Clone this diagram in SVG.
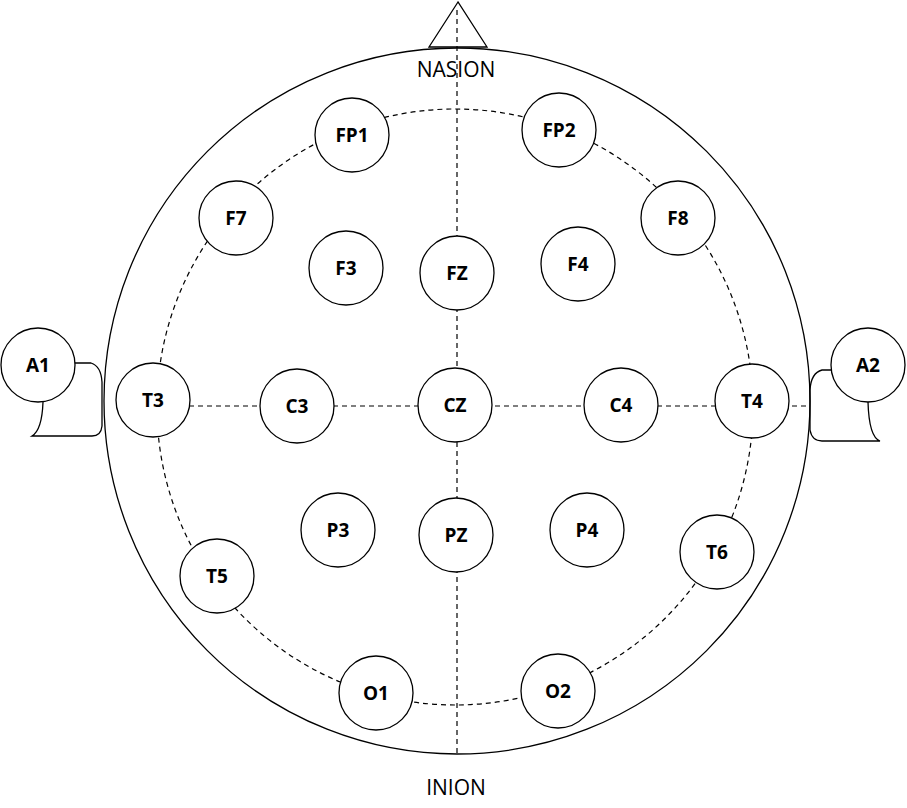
<svg xmlns="http://www.w3.org/2000/svg" width="907" height="808" viewBox="0 0 907 808">
<style>
.n circle{fill:#fff;stroke:#000;stroke-width:1.3}
.n text{font-family:"Open Sans","Liberation Sans",sans-serif;font-weight:bold;font-size:19px;text-anchor:middle;dominant-baseline:central}
.d{fill:none;stroke:#000;stroke-width:1.2;stroke-dasharray:5,4}
.s{fill:none;stroke:#000;stroke-width:1.3}
.lbl{font-family:"Open Sans","Liberation Sans",sans-serif;font-size:21px;text-anchor:middle}
</style>
<rect width="907" height="808" fill="#fff"/>
<g id="head">
<path class="s" d="M75,363 H91 Q101,366 102,382 V426 Q101,436 92,436 H32 Q42,430 43,402"/>
<path class="s" d="M831,370 H822 Q811,373 810,390 V430 Q812,441 822,441 H880 Q869,437 868,402"/>
<circle class="s" cx="457" cy="401" r="353"/>
<polygon class="s" points="458,2 429,47 487,47" fill="#fff"/>
</g>
<g id="connectors">
<circle class="d" cx="455" cy="407" r="298"/>
<line class="d" x1="457" y1="10" x2="457" y2="755"/>
<line class="d" x1="153" y1="406" x2="810" y2="406"/>
</g>
<text class="lbl" x="456" y="77">NASION</text>
<text class="lbl" x="456" y="795">INION</text>
<g id="A1" class="n"><circle cx="38" cy="365" r="37"/><text x="38" y="365">A1</text></g>
<g id="A2" class="n"><circle cx="868" cy="365" r="37"/><text x="868" y="365">A2</text></g>
<g id="FP1" class="n"><circle cx="352" cy="135" r="37"/><text x="352" y="135">FP1</text></g>
<g id="FP2" class="n"><circle cx="559" cy="130" r="37"/><text x="559" y="130">FP2</text></g>
<g id="F7" class="n"><circle cx="236" cy="218" r="37"/><text x="236" y="218">F7</text></g>
<g id="F8" class="n"><circle cx="678" cy="218" r="37"/><text x="678" y="218">F8</text></g>
<g id="F3" class="n"><circle cx="346" cy="268" r="37"/><text x="346" y="268">F3</text></g>
<g id="FZ" class="n"><circle cx="457" cy="273" r="37"/><text x="457" y="273">FZ</text></g>
<g id="F4" class="n"><circle cx="578" cy="264" r="37"/><text x="578" y="264">F4</text></g>
<g id="T3" class="n"><circle cx="153" cy="400" r="37"/><text x="153" y="400">T3</text></g>
<g id="C3" class="n"><circle cx="297" cy="406" r="37"/><text x="297" y="406">C3</text></g>
<g id="CZ" class="n"><circle cx="455" cy="405" r="37"/><text x="455" y="405">CZ</text></g>
<g id="C4" class="n"><circle cx="621" cy="405" r="37"/><text x="621" y="405">C4</text></g>
<g id="T4" class="n"><circle cx="752" cy="401" r="37"/><text x="752" y="401">T4</text></g>
<g id="P3" class="n"><circle cx="338" cy="530" r="37"/><text x="338" y="530">P3</text></g>
<g id="PZ" class="n"><circle cx="456" cy="535" r="37"/><text x="456" y="535">PZ</text></g>
<g id="P4" class="n"><circle cx="587" cy="530" r="37"/><text x="587" y="530">P4</text></g>
<g id="T5" class="n"><circle cx="217" cy="576" r="37"/><text x="217" y="576">T5</text></g>
<g id="T6" class="n"><circle cx="717" cy="552" r="37"/><text x="717" y="552">T6</text></g>
<g id="O1" class="n"><circle cx="376" cy="693" r="37"/><text x="376" y="693">O1</text></g>
<g id="O2" class="n"><circle cx="558" cy="691" r="37"/><text x="558" y="691">O2</text></g>
</svg>
